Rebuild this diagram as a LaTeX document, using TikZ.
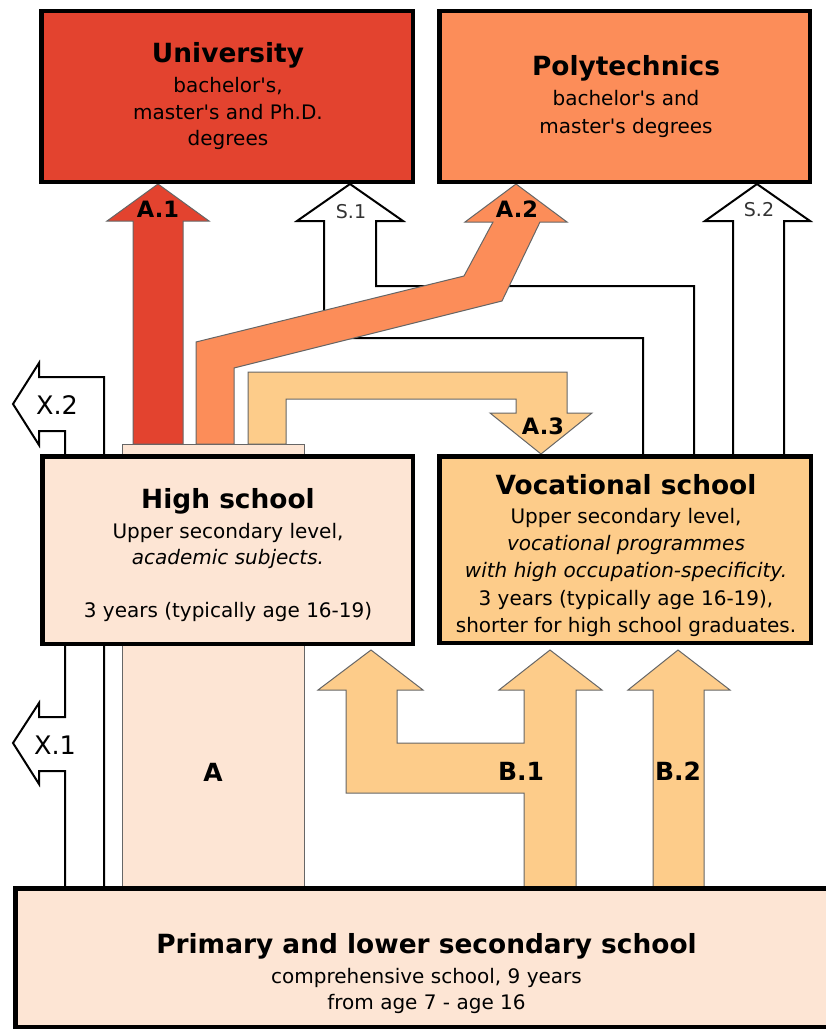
\documentclass[tikz,border=0pt]{standalone}
\usepackage{fontspec}
\setmainfont{DejaVu Sans}[Ligatures=TeXOff]
\definecolor{cuni}{HTML}{E3432F}
\definecolor{cpoly}{HTML}{FC8D59}
\definecolor{cvoc}{HTML}{FDCC8A}
\definecolor{cpeach}{HTML}{FDE5D4}
\begin{document}
\begin{tikzpicture}[x=1pt,y=-1pt,
  box/.style={draw=black,line width=4.5pt,inner sep=0pt,outer sep=0pt},
  wharrow/.style={fill=white,draw=black,line width=2pt,line join=miter},
  colarrow/.style={draw=black!60,line width=1pt,line join=miter},
  ttl/.style={anchor=base,inner sep=0pt,font=\fontsize{26.4}{30}\selectfont\bfseries},
  txt/.style={anchor=base,inner sep=0pt,font=\fontsize{20}{24}\selectfont},
  alab/.style={anchor=base,inner sep=0pt,font=\fontsize{22.5}{26}\selectfont\bfseries},
  slab/.style={anchor=base,inner sep=0pt,text=black!80,font=\fontsize{19}{22}\selectfont},
  xlab/.style={anchor=base,inner sep=0pt,font=\fontsize{25.5}{28}\selectfont},
  blab/.style={anchor=base,inner sep=0pt,font=\fontsize{25}{28}\selectfont\bfseries}]
\useasboundingbox (0,0) rectangle (826,1030);
\clip (0,0) rectangle (826,1030);

% white arrows
\draw[wharrow] (694,458) -- (694,286) -- (376,286) -- (376,221) -- (403,221) -- (350,184)
  -- (297,221) -- (324,221) -- (324,338) -- (643,338) -- (643,458) -- cycle;
\draw[wharrow] (733,458) -- (733,221) -- (705,221) -- (757,184) -- (810,221) -- (784,221)
  -- (784,458) -- cycle;
\draw[wharrow] (65,458) -- (65,431) -- (39,431) -- (39,445) -- (13,404) -- (39,363)
  -- (39,377) -- (104,377) -- (104,458) -- cycle;
\draw[wharrow] (65,642) -- (65,717) -- (39,717) -- (39,703) -- (13,743) -- (39,784)
  -- (39,771) -- (65,771) -- (65,890) -- (104,890) -- (104,642) -- cycle;

% column A
\draw[colarrow,fill=cpeach] (122,444) rectangle (304,890);

% A.1
\draw[colarrow,fill=cuni] (133,444) -- (133,221) -- (107,221) -- (158,184) -- (209,221)
  -- (183,221) -- (183,444) -- cycle;
% A.3
\draw[colarrow,fill=cvoc] (248,444) -- (248,372) -- (567,372) -- (567,413) -- (592,413)
  -- (541,454) -- (490,413) -- (516,413) -- (516,399) -- (286,399) -- (286,444) -- cycle;
% A.2
\draw[colarrow,fill=cpoly] (196,444) -- (196,342) -- (464,276) -- (493,222) -- (465,222)
  -- (516,184) -- (567,222) -- (540,222) -- (502,301) -- (234,368) -- (234,444) -- cycle;
% B.1
\draw[colarrow,fill=cvoc] (524,890) -- (524,793) -- (346,793) -- (346,690) -- (318,690)
  -- (371,650) -- (423,690) -- (397,690) -- (397,743) -- (524,743) -- (524,690)
  -- (499,690) -- (550,650) -- (602,690) -- (576,690) -- (576,890) -- cycle;
% B.2
\draw[colarrow,fill=cvoc] (653,890) -- (653,690) -- (628,690) -- (678,650) -- (730,690)
  -- (704,690) -- (704,890) -- cycle;

% boxes
\node[box,fill=cuni,minimum width=371.5pt,minimum height=170.5pt] (uni) at (227,96.5) {};
\node[box,fill=cpoly,minimum width=370.5pt,minimum height=170.5pt] (poly) at (624.5,96.5) {};
\node[box,fill=cpeach,minimum width=370.5pt,minimum height=187.5pt] (hs) at (227.5,550) {};
\node[box,fill=cvoc,minimum width=371.5pt,minimum height=186.5pt] (voc) at (625,549.5) {};
\node[box,fill=cpeach,minimum width=822.5pt,minimum height=138.5pt] (prim) at (426.5,957.5) {};

% box texts
\node[ttl] (uni-t) at (228,63) {University};
\node[txt] (uni-1) at (228,93) {bachelor's,};
\node[txt] (uni-2) at (228,120) {master's and Ph.D.};
\node[txt] (uni-3) at (228,146) {degrees};

\node[ttl] (poly-t) at (626,76) {Polytechnics};
\node[txt] (poly-1) at (626,106) {bachelor's and};
\node[txt] (poly-2) at (626,133) {master's degrees};

\node[ttl] (hs-t) at (228,508) {High school};
\node[txt] (hs-1) at (228,538) {Upper secondary level,};
\node[txt] (hs-2) at (228,564) {\itshape academic subjects.};
\node[txt] (hs-3) at (228,617) {3 years (typically age 16-19)};

\node[ttl] (voc-t) at (626,494) {Vocational school};
\node[txt] (voc-1) at (626,523) {Upper secondary level,};
\node[txt] (voc-2) at (626,550) {\itshape vocational programmes};
\node[txt] (voc-3) at (626,577) {\itshape with high occupation-specificity.};
\node[txt] (voc-4) at (626,605) {3 years (typically age 16-19),};
\node[txt] (voc-5) at (626,632) {shorter for high school graduates.};

\node[ttl] (prim-t) at (426.5,953) {Primary and lower secondary school};
\node[txt] (prim-1) at (426.5,983) {comprehensive school, 9 years};
\node[txt] (prim-2) at (426.5,1009) {from age 7 - age 16};

% arrow labels
\node[alab] (la1) at (158,217) {A.1};
\node[alab] (la2) at (517,217) {A.2};
\node[alab] (la3) at (543,434) {A.3};
\node[slab] (ls1) at (351,218) {S.1};
\node[slab] (ls2) at (759,216) {S.2};
\node[xlab] (lx2) at (57,414) {X.2};
\node[xlab] (lx1) at (55,754) {X.1};
\node[blab] (la) at (213,781) {A};
\node[blab] (lb1) at (521,780) {B.1};
\node[blab] (lb2) at (678,780) {B.2};
\end{tikzpicture}
\end{document}
